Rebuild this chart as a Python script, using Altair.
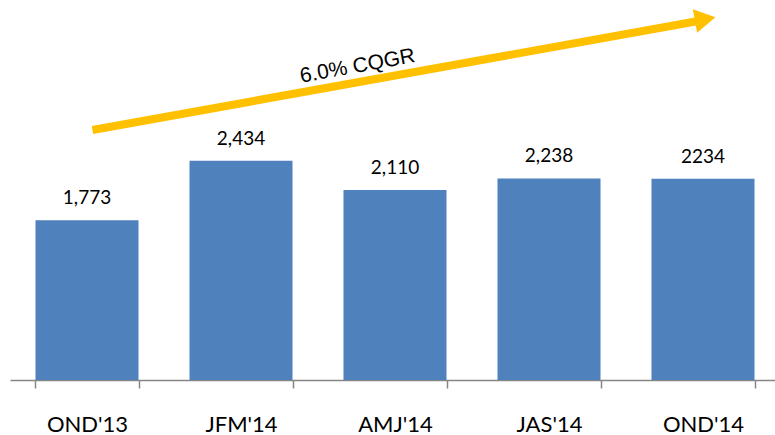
import altair as alt
import pandas as pd

# Quarterly volumes
periods = ["OND'13", "JFM'14", "AMJ'14", "JAS'14", "OND'14"]
values = [1773, 2434, 2110, 2238, 2234]
value_labels = ["1,773", "2,434", "2,110", "2,238", "2234"]
growth_label = "6.0% CQGR"

df = pd.DataFrame({"period": periods, "value": values, "label": value_labels})

BAR_COLOR = "#4F81BD"
ARROW_COLOR = "#FFC000"
FONT = "Lato"

x = alt.X(
    "period:N",
    sort=periods,
    title=None,
    scale=alt.Scale(range=[0, 770], paddingInner=0.33, paddingOuter=0.165),
    axis=alt.Axis(
        labelAngle=0,
        labelFont=FONT,
        labelFontSize=22,
        labelColor="#000000",
        labelPadding=26,
        domainColor="#868686",
        domainWidth=1.5,
        tickColor="#868686",
        tickWidth=1.5,
        tickSize=8,
        tickBand="extent",
        grid=False,
    ),
)
y = alt.Y("value:Q", scale=alt.Scale(domain=[0, 4220]), axis=None)

bars = alt.Chart(df).mark_bar(color=BAR_COLOR, size=103).encode(x=x, y=y)

text = alt.Chart(df).mark_text(
    font=FONT, fontSize=19, color="#000000", baseline="alphabetic", dy=-16
).encode(x=x, y=y, text="label:N")

# Growth arrow drawn as an annotation over the bars (plot-area pixel offsets)
shaft = alt.Chart(pd.DataFrame({"a": [0]})).mark_rule(
    color=ARROW_COLOR, strokeWidth=8, strokeCap="butt"
).encode(
    x=alt.value(82.5), y=alt.value(130), x2=alt.value(687), y2=alt.value(21.2)
)

head = alt.Chart(pd.DataFrame({"a": [0]})).mark_point(
    shape="triangle-right", filled=True, opacity=1, color=ARROW_COLOR,
    size=576, angle=349.7, strokeWidth=0,
).encode(x=alt.value(695.2), y=alt.value(19.1))

growth = alt.Chart(pd.DataFrame({"t": [growth_label]})).mark_text(
    font="Liberation Sans", fontSize=21, color="#000000",
    angle=349.7, align="center", baseline="middle",
).encode(x=alt.value(347.5), y=alt.value(66.4), text="t:N")

chart = (
    alt.layer(bars, text, shaft, head, growth)
    .properties(
        width=765,
        height=380,
        background="#FFFFFF",
        autosize=alt.AutoSizeParams(type="none"),
        padding={"left": 10, "top": 0, "right": 0, "bottom": 55},
    )
    .configure_view(strokeWidth=0, stroke=None)
)

chart.save("out.html", embed_options={"renderer": "svg", "actions": False})
